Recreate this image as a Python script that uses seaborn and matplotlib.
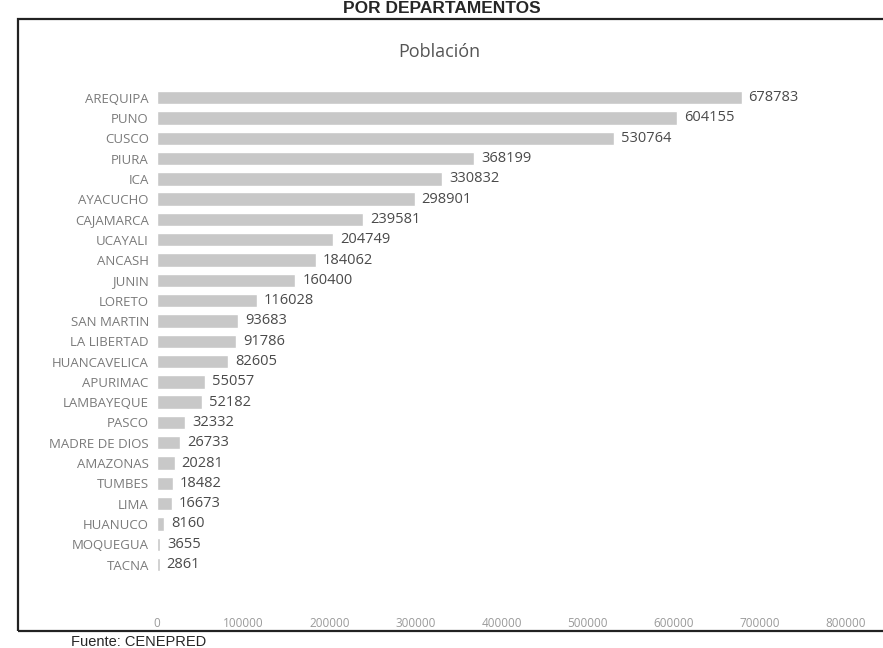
import matplotlib
matplotlib.use('Agg')
import matplotlib.pyplot as plt
from matplotlib.patches import Rectangle
import pandas as pd
import seaborn as sns

# data
departamentos = ['AREQUIPA', 'PUNO', 'CUSCO', 'PIURA', 'ICA', 'AYACUCHO',
                 'CAJAMARCA', 'UCAYALI', 'ANCASH', 'JUNIN', 'LORETO',
                 'SAN MARTIN', 'LA LIBERTAD', 'HUANCAVELICA', 'APURIMAC',
                 'LAMBAYEQUE', 'PASCO', 'MADRE DE DIOS', 'AMAZONAS', 'TUMBES',
                 'LIMA', 'HUANUCO', 'MOQUEGUA', 'TACNA']
poblacion = [678783, 604155, 530764, 368199, 330832, 298901, 239581, 204749,
             184062, 160400, 116028, 93683, 91786, 82605, 55057, 52182,
             32332, 26733, 20281, 18482, 16673, 8160, 3655, 2861]
x_ticks = [0, 100000, 200000, 300000, 400000, 500000, 600000, 700000, 800000]

df = pd.DataFrame({'Departamento': departamentos, 'Poblacion': poblacion})

sns.set_style('white')
plt.rcParams['font.family'] = ['Open Sans', 'DejaVu Sans']

fig = plt.figure(figsize=(8.83, 6.48), dpi=100)
ax = fig.add_axes([0.178, 0.085, 0.78, 0.78])

sns.barplot(data=df, y='Departamento', x='Poblacion', orient='h',
            color='#c8c8c8', width=0.66, saturation=1, ax=ax)

# value labels at the end of each bar
ax.bar_label(ax.containers[0], fmt='%d', padding=5, fontsize=10.5,
             color='#4a4a4a')

ax.set_xlim(0, 800000)
ax.set_ylim(len(departamentos) + 0.4, -0.5)
ax.set_xticks(x_ticks)
ax.set_xticklabels([str(t) for t in x_ticks])
ax.tick_params(axis='x', labelsize=8.5, colors='#9a9a9a', length=0, pad=17)
ax.tick_params(axis='y', labelsize=9.5, colors='#7a7a7a', length=0, pad=6)
ax.set_xlabel('')
ax.set_ylabel('')
for s in ax.spines.values():
    s.set_visible(False)

ax.set_title('Población', fontsize=13, color='#555555', pad=22, x=0.41)

# frame of the chart as pasted in the document
fig.patches.append(Rectangle((0.02, 0.026), 0.99, 0.944, transform=fig.transFigure,
                             fill=False, edgecolor='#222222', linewidth=1.6))

fig.text(0.50, 0.999, 'POR DEPARTAMENTOS', ha='center', va='top',
         fontsize=12.5, fontweight='bold', family='Liberation Sans')
fig.text(0.08, 0.003, 'Fuente: CENEPRED', ha='left', va='baseline',
         fontsize=10.5, family='Liberation Sans')

fig.savefig('out.png', dpi=100, facecolor='white')
